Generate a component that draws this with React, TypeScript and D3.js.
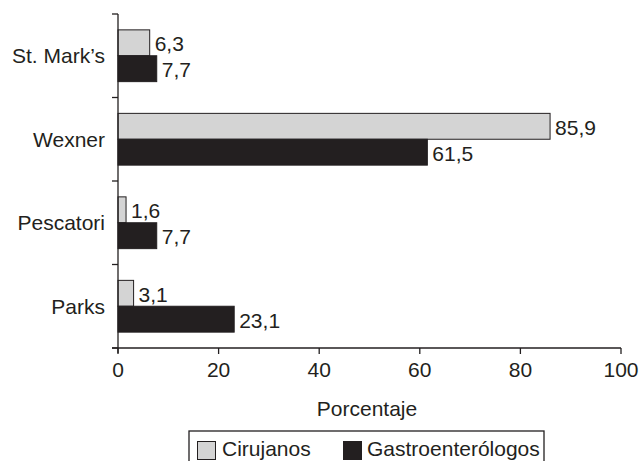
import React from "react";
import * as d3 from "d3";

const categories = ["St. Mark’s", "Wexner", "Pescatori", "Parks"];
const cirujanos = [6.3, 85.9, 1.6, 3.1];
const gastro = [7.7, 61.5, 7.7, 23.1];
const seriesNames = ["Cirujanos", "Gastroenterólogos"];
const xTicks = [0, 20, 40, 60, 80, 100];

const W = 641, H = 461;
const left = 118, right = 621, top = 14, bottom = 348;
const font = "'Liberation Sans', Arial, sans-serif";
const light = "#d4d4d4";
const dark = "#231f20";
const ink = "#231f20";
const fs = 21;

export default function App() {
  const x = d3.scaleLinear().domain([0, 100]).range([left, right]);
  const y = d3.scaleBand().domain(categories).range([top, bottom]).paddingInner(0.38).paddingOuter(0.19);
  const y0 = d3.scaleBand().domain(categories).range([top, bottom]);
  const inner = d3.scaleBand().domain(seriesNames).range([0, y.bandwidth()]);
  const fmt = (v: number) => d3.format(".1f")(v).replace(".", ",");
  const yTickPos = categories.map((c) => y0(c)!).concat([bottom]);
  const series = [cirujanos, gastro];
  const fills = [light, dark];

  return (
    <svg width={W} height={H} style={{ position: "absolute", left: 0, top: 0, background: "#fff" }} fontFamily={font}>
      <rect width={W} height={H} fill="#fff" />
      {categories.map((c, i) =>
        series.map((s, k) => {
          const by = y(c)! + inner(seriesNames[k])!;
          const bh = inner.bandwidth();
          return (
            <g key={c + k}>
              <rect x={x(0)} y={by} width={x(s[i]) - x(0)} height={bh} fill={fills[k]} stroke={ink} strokeWidth={1} />
              <text x={x(s[i]) + 5} y={by + bh / 2 + 8.5} fontSize={fs} fill={ink}>{fmt(s[i])}</text>
            </g>
          );
        })
      )}
      {categories.map((c) => (
        <text key={c} x={105} y={y0(c)! + y0.bandwidth() / 2 + 7.5} textAnchor="end" fontSize={fs} fill={ink}>{c}</text>
      ))}
      <line x1={left} x2={left} y1={top} y2={bottom + 5} stroke={ink} strokeWidth={1.3} />
      {yTickPos.map((p, i) => (
        <line key={i} x1={left - 6} x2={left} y1={p} y2={p} stroke={ink} strokeWidth={1.3} />
      ))}
      <line x1={left - 6} x2={right} y1={bottom} y2={bottom} stroke={ink} strokeWidth={1.3} />
      {xTicks.map((t) => (
        <g key={t}>
          <line x1={x(t)} x2={x(t)} y1={bottom} y2={bottom + 6} stroke={ink} strokeWidth={1.3} />
          <text x={x(t)} y={bottom + 29} textAnchor="middle" fontSize={fs} fill={ink}>{t}</text>
        </g>
      ))}
      <text x={367} y={bottom + 68} textAnchor="middle" fontSize={fs} fill={ink}>Porcentaje</text>
      <rect x={189} y={431} width={355} height={40} fill="#fff" stroke={ink} strokeWidth={1.3} />
      <rect x={197.5} y={441.5} width={18} height={18} fill={light} stroke={ink} strokeWidth={1} />
      <text x={222} y={456} fontSize={fs} fill={ink}>{seriesNames[0]}</text>
      <rect x={343.5} y={441.5} width={18} height={18} fill={dark} stroke={ink} strokeWidth={1} />
      <text x={367} y={456} fontSize={fs} fill={ink}>{seriesNames[1]}</text>
    </svg>
  );
}
